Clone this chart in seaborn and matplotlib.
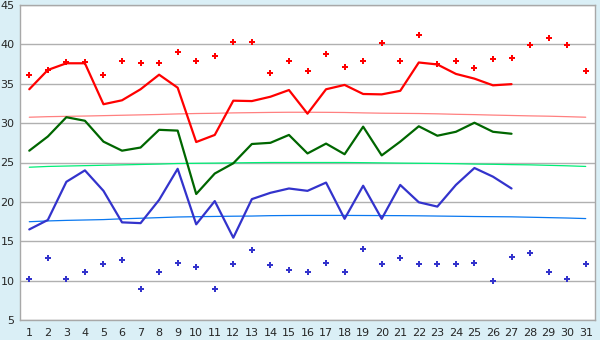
import numpy as np
import pandas as pd
import matplotlib
matplotlib.use("Agg")
import matplotlib.pyplot as plt
import seaborn as sns

# === DATI ===
days = list(range(1, 32))
days_obs = list(range(1, 28))

t_max = [34.3, 36.75, 37.6, 37.6, 32.4, 32.9, 34.3, 36.15, 34.5, 27.6,
         28.5, 32.85, 32.8, 33.35, 34.2, 31.2, 34.3, 34.85, 33.7, 33.65,
         34.1, 37.7, 37.45, 36.25, 35.65, 34.8, 34.95]
t_mean = [26.5, 28.3, 30.75, 30.3, 27.65, 26.5, 26.9, 29.15, 29.05, 21.0,
          23.6, 24.9, 27.35, 27.5, 28.5, 26.15, 27.4, 26.05, 29.55, 25.9,
          27.65, 29.6, 28.4, 28.9, 30.05, 28.9, 28.65]
t_min = [16.5, 17.7, 22.55, 24.0, 21.4, 17.4, 17.3, 20.25, 24.2, 17.15,
         20.1, 15.45, 20.35, 21.15, 21.7, 21.4, 22.45, 17.85, 22.05, 17.85,
         22.15, 19.95, 19.4, 22.15, 24.3, 23.2, 21.7]

rec_max = [36.05, 36.75, 37.7, 37.7, 36.05, 37.95, 37.6, 37.6, 39.0, 37.85,
           38.5, 40.25, 40.25, 36.35, 37.95, 36.6, 38.8, 37.15, 37.95, 40.15,
           37.95, 41.2, 37.45, 37.85, 36.95, 38.1, 38.25, 39.9, 40.8, 39.9,
           36.6]
rec_min = [10.15, 12.85, 10.15, 11.05, 12.05, 12.6, 9.0, 11.05, 12.2, 11.7,
           9.0, 12.05, 13.85, 11.95, 11.3, 11.05, 12.2, 11.05, 14.0, 12.05,
           12.85, 12.05, 12.05, 12.05, 12.2, 9.9, 12.95, 13.45, 11.15, 10.15,
           12.05]

norm_max = [30.75, 30.82, 30.86, 30.9, 30.95, 31.0, 31.05, 31.1, 31.17, 31.22,
            31.25, 31.3, 31.33, 31.36, 31.38, 31.38, 31.37, 31.35, 31.3, 31.26,
            31.24, 31.22, 31.18, 31.12, 31.08, 31.02, 30.97, 30.92, 30.88, 30.82,
            30.75]
norm_mean = [24.4, 24.5, 24.55, 24.6, 24.65, 24.7, 24.75, 24.8, 24.87, 24.9,
             24.92, 24.95, 24.98, 25.0, 25.0, 25.0, 25.0, 25.0, 24.98, 24.95,
             24.92, 24.9, 24.88, 24.85, 24.8, 24.77, 24.73, 24.7, 24.64, 24.58,
             24.5]
norm_min = [17.48, 17.58, 17.65, 17.7, 17.75, 17.85, 17.92, 18.0, 18.08, 18.12,
            18.15, 18.18, 18.2, 18.25, 18.27, 18.28, 18.28, 18.28, 18.27, 18.26,
            18.25, 18.23, 18.2, 18.17, 18.14, 18.12, 18.1, 18.05, 18.0, 17.95,
            17.88]

df_obs = pd.DataFrame({"day": days_obs, "tmax": t_max, "tmean": t_mean, "tmin": t_min})
df_all = pd.DataFrame({"day": days, "rmax": rec_max, "rmin": rec_min,
                       "nmax": norm_max, "nmean": norm_mean, "nmin": norm_min})

# === GRAFICO ===
sns.set_style("white")
plt.rcParams["font.family"] = ["DejaVu Sans"]

bg = "#daeff6"
fig = plt.figure(figsize=(6, 3.4), dpi=100, facecolor=bg)
ax = fig.add_axes([20 / 600, 20 / 340, 575 / 600, 315 / 340])
ax.set_facecolor("white")

# normali (linee sottili)
sns.lineplot(data=df_all, x="day", y="nmax", color="#ff8080", linewidth=0.9, ax=ax)
sns.lineplot(data=df_all, x="day", y="nmean", color="#00ee77", linewidth=0.9, ax=ax)
sns.lineplot(data=df_all, x="day", y="nmin", color="#0a78f0", linewidth=0.9, ax=ax)

# osservati
sns.lineplot(data=df_obs, x="day", y="tmax", color="#ff0000", linewidth=1.6, ax=ax)
sns.lineplot(data=df_obs, x="day", y="tmean", color="#006600", linewidth=1.6, ax=ax)
sns.lineplot(data=df_obs, x="day", y="tmin", color="#3333cc", linewidth=1.6, ax=ax)

# record
sns.scatterplot(data=df_all, x="day", y="rmax", color="#ff0000", marker="P",
                s=22, linewidth=0, ax=ax, zorder=5)
sns.scatterplot(data=df_all, x="day", y="rmin", color="#3333cc", marker="P",
                s=22, linewidth=0, ax=ax, zorder=5)

ax.set_xlim(0.5, 31.5)
ax.set_ylim(5, 45)
ax.set_xticks(days)
ax.set_yticks(range(5, 46, 5))
ax.set_xlabel("")
ax.set_ylabel("")
ax.yaxis.grid(True, color="#b0b0b0", linewidth=1.0)
ax.set_axisbelow(True)
for s in ax.spines.values():
    s.set_color("#a8a8a8")
    s.set_linewidth(1.0)
ax.tick_params(axis="x", length=4, width=1, color="black", labelsize=8, pad=2)
ax.tick_params(axis="y", length=3, width=1, color="black", labelsize=8, pad=1)

fig.savefig("out.png", dpi=100, facecolor=bg)
